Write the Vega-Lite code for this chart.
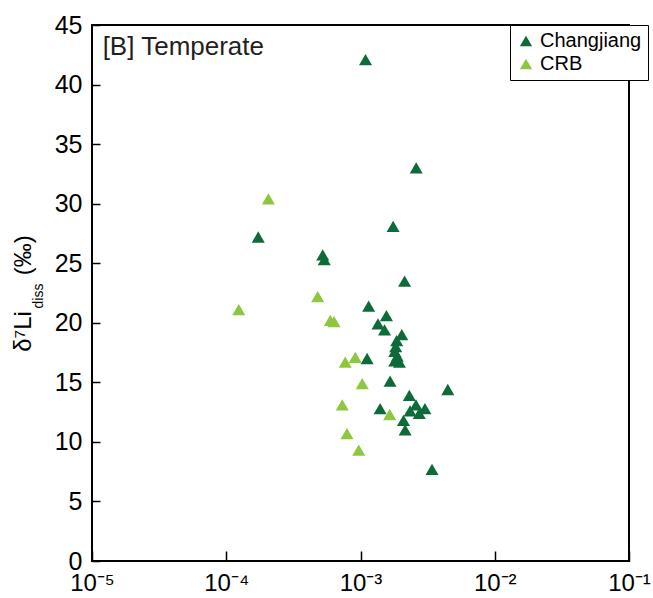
{
  "$schema": "https://vega.github.io/schema/vega-lite/v6.json",
  "width": 537,
  "height": 536,
  "autosize": {"type": "none"},
  "padding": {"left": 92, "top": 25, "right": 24, "bottom": 37},
  "config": {
    "font": "Liberation Sans",
    "view": {"stroke": "black", "strokeWidth": 2},
    "axis": {"grid": false, "domain": false, "tickColor": "black", "tickWidth": 1.5, "labelColor": "black", "titleColor": "black"},
    "legend": {"strokeColor": "black"}
  },
  "layer": [
    {
      "data": {"values": [
        {"x": 1.09e-3, "y": 42.1, "river": "Changjiang"},
        {"x": 2.60e-3, "y": 33.0, "river": "Changjiang"},
        {"x": 1.75e-3, "y": 28.1, "river": "Changjiang"},
        {"x": 1.73e-4, "y": 27.2, "river": "Changjiang"},
        {"x": 5.23e-4, "y": 25.7, "river": "Changjiang"},
        {"x": 5.37e-4, "y": 25.3, "river": "Changjiang"},
        {"x": 2.13e-3, "y": 23.5, "river": "Changjiang"},
        {"x": 1.15e-3, "y": 21.4, "river": "Changjiang"},
        {"x": 1.56e-3, "y": 20.6, "river": "Changjiang"},
        {"x": 1.35e-3, "y": 19.9, "river": "Changjiang"},
        {"x": 1.51e-3, "y": 19.4, "river": "Changjiang"},
        {"x": 2.03e-3, "y": 19.0, "river": "Changjiang"},
        {"x": 1.86e-3, "y": 18.5, "river": "Changjiang"},
        {"x": 1.83e-3, "y": 18.0, "river": "Changjiang"},
        {"x": 1.80e-3, "y": 17.6, "river": "Changjiang"},
        {"x": 1.88e-3, "y": 17.2, "river": "Changjiang"},
        {"x": 1.80e-3, "y": 16.8, "river": "Changjiang"},
        {"x": 1.95e-3, "y": 16.7, "river": "Changjiang"},
        {"x": 1.12e-3, "y": 17.0, "river": "Changjiang"},
        {"x": 1.66e-3, "y": 15.1, "river": "Changjiang"},
        {"x": 4.47e-3, "y": 14.4, "river": "Changjiang"},
        {"x": 2.31e-3, "y": 13.9, "river": "Changjiang"},
        {"x": 1.40e-3, "y": 12.8, "river": "Changjiang"},
        {"x": 2.59e-3, "y": 13.1, "river": "Changjiang"},
        {"x": 3.02e-3, "y": 12.8, "river": "Changjiang"},
        {"x": 2.34e-3, "y": 12.6, "river": "Changjiang"},
        {"x": 2.74e-3, "y": 12.4, "river": "Changjiang"},
        {"x": 2.09e-3, "y": 11.8, "river": "Changjiang"},
        {"x": 2.15e-3, "y": 11.0, "river": "Changjiang"},
        {"x": 3.41e-3, "y": 7.7, "river": "Changjiang"},
        {"x": 2.06e-4, "y": 30.4, "river": "CRB"},
        {"x": 4.80e-4, "y": 22.2, "river": "CRB"},
        {"x": 1.24e-4, "y": 21.1, "river": "CRB"},
        {"x": 5.96e-4, "y": 20.2, "river": "CRB"},
        {"x": 6.35e-4, "y": 20.1, "river": "CRB"},
        {"x": 9.14e-4, "y": 17.1, "river": "CRB"},
        {"x": 7.70e-4, "y": 16.7, "river": "CRB"},
        {"x": 1.03e-3, "y": 14.9, "river": "CRB"},
        {"x": 7.31e-4, "y": 13.1, "river": "CRB"},
        {"x": 1.65e-3, "y": 12.3, "river": "CRB"},
        {"x": 7.93e-4, "y": 10.7, "river": "CRB"},
        {"x": 9.70e-4, "y": 9.3, "river": "CRB"}
      ]},
      "mark": {"type": "point", "shape": "triangle-up", "filled": true, "size": 170, "opacity": 1, "strokeWidth": 0},
      "encoding": {
        "x": {
          "field": "x", "type": "quantitative",
          "scale": {"type": "log", "domain": [1e-5, 0.1], "nice": false},
          "axis": {
            "title": null,
            "values": [1e-5, 1e-4, 1e-3, 1e-2, 1e-1],
            "labelExpr": "datum.value < 5e-5 ? '10⁻⁵' : datum.value < 5e-4 ? '10⁻⁴' : datum.value < 5e-3 ? '10⁻³' : datum.value < 5e-2 ? '10⁻²' : '10⁻¹'",
            "labelFontSize": 24,
            "labelFlush": false,
            "offset": -10,
            "tickSize": 10,
            "labelPadding": 10
          }
        },
        "y": {
          "field": "y", "type": "quantitative",
          "scale": {"domain": [0, 45], "nice": false, "zero": false},
          "axis": {
            "title": "δ⁷Li\u2003\u2002(‰)",
            "values": [0, 5, 10, 15, 20, 25, 30, 35, 40, 45],
            "labelFontSize": 25,
            "labelFlush": false,
            "offset": -8,
            "tickSize": 8,
            "labelPadding": 10,
            "titleFontSize": 24,
            "titleFontWeight": "normal",
            "titleX": -70,
            "titleY": 268,
            "titleAngle": 270,
            "titleAlign": "center",
            "titleBaseline": "alphabetic"
          }
        },
        "color": {
          "field": "river", "type": "nominal",
          "scale": {"domain": ["Changjiang", "CRB"], "range": ["#0c6b38", "#8dc63f"]},
          "legend": {
            "title": null,
            "orient": "none",
            "legendX": 418,
            "legendY": 0,
            "strokeColor": "black",
            "fillColor": "white",
            "padding": 6,
            "symbolType": "triangle-up",
            "symbolSize": 150,
            "symbolStrokeWidth": 0,
            "symbolOpacity": 1,
            "labelFontSize": 20,
            "labelColor": "black",
            "labelOffset": 4,
            "rowPadding": 3
          }
        }
      }
    },
    {
      "data": {"values": [{"label": "[B] Temperate"}]},
      "mark": {"type": "text", "align": "left", "baseline": "alphabetic", "fontSize": 26, "color": "#231f20"},
      "encoding": {
        "text": {"field": "label"},
        "x": {"datum": 1.2e-5, "type": "quantitative"},
        "y": {"datum": 42.5, "type": "quantitative"}
      }
    },
    {
      "data": {"values": [{"label": "diss"}]},
      "mark": {"type": "text", "align": "center", "baseline": "alphabetic", "fontSize": 14, "angle": 270, "dy": -49, "color": "black"},
      "encoding": {
        "text": {"field": "label"},
        "x": {"datum": 1e-5, "type": "quantitative"},
        "y": {"datum": 22.25, "type": "quantitative"}
      }
    }
  ]
}
